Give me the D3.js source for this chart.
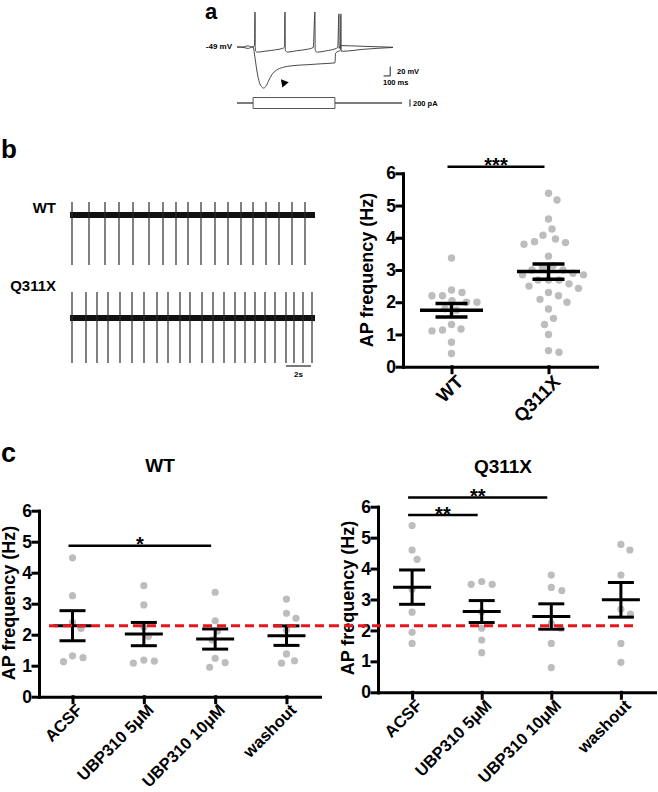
<!DOCTYPE html>
<html>
<head>
<meta charset="utf-8">
<script src="https://cdn.jsdelivr.net/npm/d3@7"></script>
<style>
  body { margin: 0; background: #fff; }
  svg text { font-family: 'Liberation Sans', Arial, sans-serif; font-weight: bold; }
</style>
</head>
<body>
<script>
const FONT = "'Liberation Sans', Arial, sans-serif";

// ---- panel a : current-clamp traces (time ms, mV) ----
const traceSpiking = [[0,-49],[100,-49],[130,-47],[160,-46.5],[190,-48],[230,-49],[245,-47],[252,-40],[257,26],[261,-50],[268,-58],[290,-60],[400,-58],[550,-55],[650,-52],[680,-49],[686,26],[690,-55],[700,-58],[720,-60],[850,-57],[1000,-54],[1090,-50],[1114,26],[1118,-55],[1130,-59],[1150,-60],[1280,-57],[1400,-53],[1440,-50],[1457,22],[1461,-52],[1480,-46],[1800,-47.5],[2230,-49.5]];
const traceHyper = [[0,-49],[100,-50],[130,-51.5],[160,-52],[190,-50.5],[230,-49],[240,-55],[260,-75],[290,-105],[320,-125],[350,-134],[380,-137],[410,-134],[450,-122],[500,-108],[560,-99],[650,-93],[800,-89],[1000,-87],[1200,-85],[1400,-83],[1410,-62],[1480,-55],[1485,22],[1489,-58],[1520,-58],[1800,-54],[2230,-50]];
const stepOn = 230, stepOff = 1400, stepEnd = 2360, stepAmp = 150; // ms, pA

// ---- panel b : spontaneous firing (spike times, s) ----
const spikesWT = [0.16,1.52,2.8,3.92,5.04,6.32,7.44,8.48,9.44,10.48,11.6,12.64,13.68,14.64,15.68,16.72,17.76,18.8];
const spikesQ = [0.16,1.28,2.16,3.04,4.0,4.96,5.92,6.96,7.84,8.8,9.6,10.56,11.44,12.32,13.2,14.0,14.8,15.6,16.4,17.28,17.92,18.64,19.36];

// ---- panel b : AP frequency ----
const bCats = ['WT', 'Q311X'];
const bWT = [3.37,2.38,2.3,2.2,2.2,2.05,2.0,2.0,1.8,1.75,1.31,1.17,1.14,1.11,0.76,0.41];
const bQ = [5.38,5.17,4.58,4.27,4.08,3.96,3.88,3.85,3.8,3.43,3.13,3.08,3.0,3.0,2.9,2.85,2.85,2.69,2.69,2.69,2.57,2.5,2.43,2.3,2.2,2.09,2.0,1.79,1.5,1.31,1.0,0.5,0.45];
const bMean = [1.75, 2.95];
const bSem = [0.21, 0.24];

// ---- panel c ----
const cCats = ['ACSF', 'UBP310 5\u03bcM', 'UBP310 10\u03bcM', 'washout'];
const cWT = [
  [4.48,3.26,2.4,2.2,1.32,1.26,1.13],
  [3.58,2.96,2.25,1.94,1.18,1.15,1.08],
  [3.37,2.45,2.12,1.83,1.24,1.1,0.95],
  [3.15,2.69,2.53,2.15,1.38,1.16,1.08]
];
const cWTMean = [2.29, 2.02, 1.86, 1.97];
const cWTSem = [0.485, 0.375, 0.325, 0.315];
const cWTRef = 2.29;
const cQ = [
  [5.39,4.6,4.3,3.33,2.59,1.94,1.58],
  [3.58,3.49,3.49,2.6,2.07,1.69,1.28],
  [3.79,3.39,3.29,2.23,2.07,1.58,0.8],
  [4.78,4.6,3.79,2.69,2.53,1.58,0.97]
];
const cQMean = [3.4, 2.61, 2.45, 2.99];
const cQSem = [0.555, 0.355, 0.41, 0.56];
const cQRef = 2.15;

const svg = d3.select('body').append('svg').attr('width', 658).attr('height', 792);
svg.append('rect').attr('width', 658).attr('height', 792).attr('fill', '#fff');

// panel letters
svg.append('text').attr('x', 205).attr('y', 19).attr('font-size', 22).text('a');
svg.append('text').attr('x', 1).attr('y', 158).attr('font-size', 26).text('b');
svg.append('text').attr('x', 1).attr('y', 462).attr('font-size', 27).text('c');

// ---------- panel a ----------
const at = d3.scaleLinear().domain([0, 2230]).range([237, 393]);
const av = d3.scaleLinear().domain([-49, 26]).range([47, 12]);
const vLine = d3.line().x(d => at(d[0])).y(d => av(d[1])).curve(d3.curveMonotoneX);
[traceSpiking, traceHyper].forEach(tr => {
  svg.append('path').datum(tr).attr('d', vLine)
    .attr('fill', 'none').attr('stroke', '#333').attr('stroke-width', 0.9);
});
svg.append('text').attr('x', 232).attr('y', 49).attr('text-anchor', 'end').attr('font-size', 8).text('-49 mV');
svg.append('path').attr('d', d3.symbol(d3.symbolTriangle, 30)())
  .attr('transform', 'translate(284,83) rotate(-40)').attr('fill', '#000');

// scale bars
svg.append('path').attr('d', `M${at(2095)},${av(-49 - 62)}H${at(2190)}V${av(-49 - 42)}`)
  .attr('fill', 'none').attr('stroke', '#222').attr('stroke-width', 1);
svg.append('text').attr('x', 397).attr('y', 74).attr('font-size', 7.5).text('20 mV');
svg.append('text').attr('x', 383).attr('y', 85).attr('font-size', 7.5).text('100 ms');

const ai = d3.scaleLinear().domain([0, stepAmp]).range([103, 97.5]);
const iLine = d3.line().x(d => at(d[0])).y(d => ai(d[1]));
[stepAmp, -stepAmp].forEach(a => {
  svg.append('path')
    .datum([[0,0],[stepOn,0],[stepOn,a],[stepOff,a],[stepOff,0],[stepEnd,0]])
    .attr('d', iLine).attr('fill', 'none').attr('stroke', '#444').attr('stroke-width', 0.9);
});
svg.append('line').attr('x1', 410).attr('x2', 410).attr('y1', ai(100)).attr('y2', ai(-100))
  .attr('stroke', '#222').attr('stroke-width', 1);
svg.append('text').attr('x', 413).attr('y', 106).attr('font-size', 7.5).text('200 pA');

// ---------- panel b traces ----------
const tx = d3.scaleLinear().domain([0, 19.6]).range([70, 315]);
const traces = [
  {name: 'WT', spikes: spikesWT, up: 26, down: -100, y: d3.scaleLinear().domain([-100, 30]).range([265, 200]), ly: 213},
  {name: 'Q311X', spikes: spikesQ, up: 52, down: -90, y: d3.scaleLinear().domain([-100, 30]).range([368, 303]), ly: 291}
];
traces.forEach(tr => {
  svg.append('text').attr('x', 56).attr('y', tr.ly).attr('text-anchor', 'end').attr('font-size', 15).text(tr.name);
  svg.append('line').attr('x1', tx(0)).attr('x2', tx(19.6)).attr('y1', tr.y(0)).attr('y2', tr.y(0))
    .attr('stroke', '#111').attr('stroke-width', 6);
  svg.append('g').selectAll('line').data(tr.spikes).join('line')
    .attr('x1', d => tx(d)).attr('x2', d => tx(d))
    .attr('y1', tr.y(tr.up)).attr('y2', tr.y(tr.down))
    .attr('stroke', '#2a2a2a').attr('stroke-width', 1.2);
});
svg.append('line').attr('x1', tx(17.28)).attr('x2', tx(19.28)).attr('y1', 366).attr('y2', 366)
  .attr('stroke', '#222').attr('stroke-width', 1.2);
svg.append('text').attr('x', tx(18.28)).attr('y', 377).attr('text-anchor', 'middle').attr('font-size', 8).text('2s');

// ---------- dot plots ----------
function swarm(values, cx, y, minDist) {
  const placed = [];
  values.slice().sort((a, b) => b - a).forEach(v => {
    const py = y(v);
    let off = 0;
    for (let k = 0; k < 400; k++) {
      off = k === 0 ? 0 : (k % 2 ? 1 : -1) * Math.ceil(k / 2) * 0.5;
      if (placed.every(q => Math.hypot(q.x - (cx + off), q.y - py) >= minDist)) break;
    }
    placed.push({x: cx + off, y: py});
  });
  return placed;
}

function dotPanel(cfg) {
  const g = svg.append('g');
  const y = d3.scaleLinear().domain([0, 6]).range([cfg.bottom, cfg.top]);
  const x = d3.scalePoint().domain(cfg.cats).range([cfg.left, cfg.right]).padding(cfg.pad);

  // points
  cfg.groups.forEach((vals, i) => {
    g.append('g').selectAll('circle').data(swarm(vals, x(cfg.cats[i]), y, cfg.minDist)).join('circle')
      .attr('cx', d => d.x).attr('cy', d => d.y).attr('r', cfg.r).attr('fill', '#bdbdbd');
  });

  // mean +/- SEM
  cfg.means.forEach((m, i) => {
    const cx = x(cfg.cats[i]), s = cfg.sems[i];
    const eb = g.append('g').attr('stroke', '#000').attr('stroke-width', cfg.sw).attr('fill', 'none');
    eb.append('line').attr('x1', cx - cfg.meanW / 2).attr('x2', cx + cfg.meanW / 2).attr('y1', y(m)).attr('y2', y(m));
    eb.append('line').attr('x1', cx).attr('x2', cx).attr('y1', y(m - s)).attr('y2', y(m + s));
    [m - s, m + s].forEach(v => eb.append('line')
      .attr('x1', cx - cfg.capW / 2).attr('x2', cx + cfg.capW / 2).attr('y1', y(v)).attr('y2', y(v)));
  });

  // axes
  const ya = g.append('g').attr('transform', `translate(${cfg.left},0)`)
    .call(d3.axisLeft(y).ticks(6).tickSize(6).tickSizeOuter(0).tickPadding(1));
  const xa = g.append('g').attr('transform', `translate(0,${cfg.bottom})`)
    .call(d3.axisBottom(x).tickSize(6).tickSizeOuter(0));
  [ya, xa].forEach(a => {
    a.attr('font-family', FONT).attr('font-weight', 'bold');
    a.selectAll('path, line').attr('stroke', '#000').attr('stroke-width', 3).attr('stroke-linecap', 'square');
    a.selectAll('text').attr('fill', '#000');
  });
  ya.attr('font-size', 17.5);
  xa.attr('font-size', cfg.xfs);
  xa.selectAll('.tick text').attr('text-anchor', 'end').attr('x', 0).attr('y', 0).attr('dy', '0.72em')
    .attr('transform', `translate(${cfg.lx},${cfg.ly}) rotate(-45)`);

  g.append('text').attr('transform', `translate(${cfg.yl[0]},${cfg.yl[1]}) rotate(-90)`)
    .attr('text-anchor', 'middle').attr('font-size', 18).text('AP frequency (Hz)');

  if (cfg.title) {
    g.append('text').attr('x', cfg.title[1]).attr('y', cfg.title[2]).attr('text-anchor', 'middle')
      .attr('font-size', 19).text(cfg.title[0]);
  }

  // significance bars
  cfg.sig.forEach(s => {
    const x1 = x(s.a) - 4, x2 = x(s.b) - 4;
    g.append('line').attr('x1', x1).attr('x2', x2).attr('y1', y(s.v)).attr('y2', y(s.v))
      .attr('stroke', '#000').attr('stroke-width', 2.5);
    g.append('text').attr('x', (x1 + x2) / 2).attr('y', y(s.v) + 5.5).attr('text-anchor', 'middle')
      .attr('font-size', 20).text(s.label);
  });

  if (cfg.ref !== undefined) {
    g.append('line').attr('x1', cfg.refX[0]).attr('x2', cfg.refX[1]).attr('y1', y(cfg.ref)).attr('y2', y(cfg.ref))
      .attr('stroke', '#e8161c').attr('stroke-width', 3).attr('stroke-dasharray', '9,5');
  }
}

dotPanel({
  cats: bCats, groups: [bWT, bQ], means: bMean, sems: bSem,
  left: 403, right: 597, pad: 0.5, top: 173.3, bottom: 366.7,
  r: 3.7, minDist: 10.5, meanW: 63, capW: 32, sw: 3.5, xfs: 18.5,
  lx: 3, ly: 7, yl: [373, 270],
  sig: [{a: 'WT', b: 'Q311X', v: 6.2, label: '***'}]
});

dotPanel({
  cats: cCats, groups: cWT, means: cWTMean, sems: cWTSem,
  left: 39, right: 320, pad: 0.47, top: 510.7, bottom: 696.7,
  r: 3.6, minDist: 10.5, meanW: 38, capW: 26, sw: 3, xfs: 16.5,
  lx: 2, ly: 6, yl: [15, 603], title: ['WT', 160, 472],
  sig: [{a: cCats[0], b: cCats[2], v: 4.87, label: '*'}],
  ref: cWTRef, refX: [49, 330]
});

dotPanel({
  cats: cCats, groups: cQ, means: cQMean, sems: cQSem,
  left: 378, right: 655, pad: 0.49, top: 506.7, bottom: 692.3,
  r: 3.6, minDist: 10.5, meanW: 38, capW: 26, sw: 3, xfs: 16.5,
  lx: 2, ly: 6, yl: [354, 598], title: ['Q311X', 503, 473],
  sig: [{a: cCats[0], b: cCats[2], v: 6.3, label: '**'}, {a: cCats[0], b: cCats[1], v: 5.73, label: '**'}],
  ref: cQRef, refX: [330, 638]
});
</script>
</body>
</html>
